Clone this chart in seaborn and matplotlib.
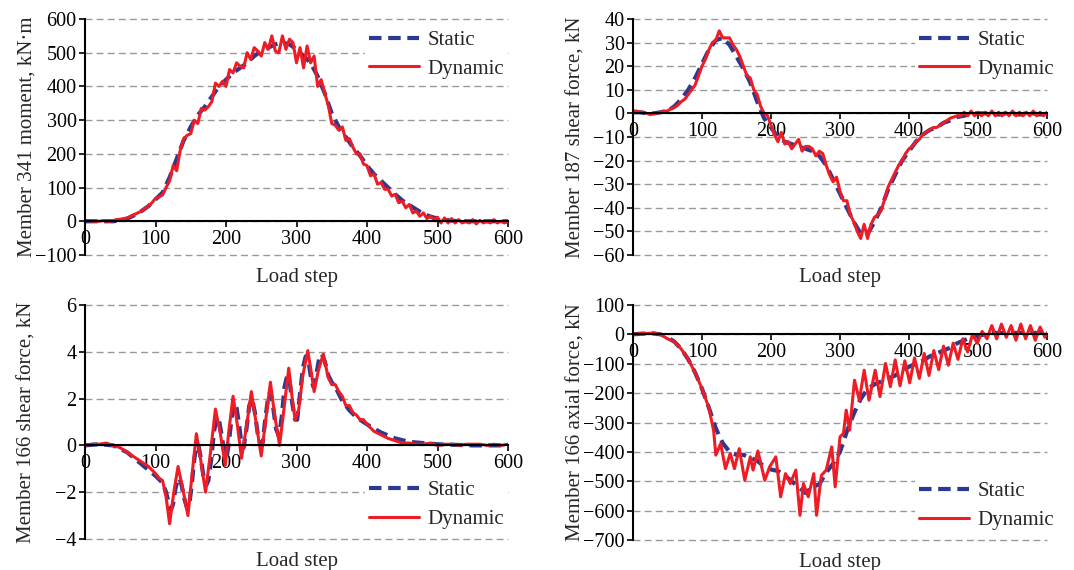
import numpy as np
import pandas as pd
import matplotlib
matplotlib.use("Agg")
import matplotlib.pyplot as plt
import seaborn as sns

# ---- Member 341 moment (kN.m)
m341_static_x = list(range(0, 601, 10))
m341_static_y = [0, 0, 0, 0, 0, 3, 8, 18, 30, 45, 65, 85, 130, 185, 240, 280, 315, 340, 370, 400,
                 420, 440, 455, 470, 490, 505, 515, 525, 530, 525, 510, 490, 470, 430, 380, 320, 280, 250,
                 220, 195, 165, 140, 120, 100, 80, 62, 48, 35, 22, 14, 8, 4, 2, 0, 0, 0, 0, 0, 0, 0, 0]
m341_dyn_x = list(range(0, 601, 5))
m341_dyn_y = [3, 2, 1, 0, 0, 2, 1, 0, 2, 5, 6, 8, 10, 15, 20, 25, 30, 38, 45, 55,
              68, 72, 78, 100, 120, 165, 150, 210, 245, 255, 260, 300, 290, 335, 330, 340, 355, 410, 400, 415,
              400, 450, 440, 470, 460, 455, 500, 480, 515, 505, 490, 530, 510, 550, 505, 500, 550, 510, 540, 530,
              470, 515, 455, 520, 470, 490, 400, 420, 380, 345, 290, 285, 270, 280, 240, 245, 220, 200, 200, 170,
              165, 135, 140, 110, 115, 95, 95, 75, 80, 55, 60, 40, 50, 25, 30, 15, 25, 8, 15, 5,
              12, -5, 10, -5, 8, -5, 5, -5, 0, -5, 5, -8, 3, -5, 0, -5, 5, -5, 0, -5, 0]

# ---- Member 187 shear force (kN)
m187_static_x = list(range(0, 601, 10))
m187_static_y = [0.5, 0.5, 0, 0, 0.5, 1, 3, 6, 10, 15, 21, 27, 31, 32, 29, 24, 19, 13, 5, -2,
                 -6, -10, -12, -13, -14, -15, -16, -18, -22, -28, -34, -40, -46, -51, -51, -46, -40, -32,
                 -26, -20, -16, -12, -9, -7, -6, -4, -3, -1.5, -1, 0, 0, 0, 0, -0.5, 0, 0, -0.5, 0, 0, -0.5, 0]
m187_dyn_x = list(range(0, 601, 5))
m187_dyn_y = [1, 1, 0.5, 0.5, 0, -0.5, 0, 0, 0.5, 1, 1, 2, 2.5, 3.5, 5, 6, 8, 10, 12, 16,
              20, 23, 27, 30, 31, 35, 32, 32, 32, 29, 27, 24, 20, 16, 15, 10, 8, 3, 0, -1,
              -5, -9, -12, -8, -13, -12, -15, -13, -11, -16, -14, -14, -15, -18, -16, -17, -22, -26, -29, -27,
              -33, -37, -37, -43, -46, -50, -53, -47, -53, -47, -44, -43, -41, -36, -31, -28, -25, -22, -20, -17,
              -15, -14, -12, -11, -9, -8, -7, -6, -6, -5, -4, -3, -2, -1.5, -1, -1, 0.5, -1, 1, -1,
              0.5, -1, 0.5, -1, 1, -1, 0.5, -1, 0.5, -1, 1, -1, 0.5, -1, 0.5, -1, 1, -1, 0.5, -1, 0.5]

# ---- Member 166 shear force (kN)
m166s_static_x = [0, 20, 40, 60, 80, 100, 110, 115, 119, 122, 125, 128, 131, 134, 137, 141, 145, 148, 151,
                  155, 158, 161, 164, 168, 172, 175, 179, 183, 187, 190, 194, 198, 201, 204, 208, 212, 215,
                  219, 222, 225, 229, 233, 237, 241, 245, 249, 252, 256, 260, 263, 267, 271, 275, 279, 283,
                  287, 290, 294, 298, 301, 305, 309, 313, 317, 321, 324, 328, 332, 336, 340, 345, 350, 355,
                  360, 365, 370, 375, 385, 395, 405, 420, 440, 460, 480, 500, 550, 600]
m166s_static_y = [0, 0.05, 0, -0.3, -0.8, -1.3, -1.6, -2.0, -2.5, -2.75, -2.5, -1.9, -1.5, -1.4, -1.7, -2.3,
                  -2.7, -2.5, -1.8, -0.6, 0.0, 0.0, -0.5, -1.3, -1.7, -1.5, -0.6, 0.6, 1.2, 1.1, 0.4, -0.4,
                  -0.5, 0.1, 1.2, 1.8, 1.6, 0.8, 0.0, -0.1, 0.7, 1.7, 2.0, 1.4, 0.5, 0.0, 0.1, 1.2, 2.1, 2.3,
                  1.6, 0.7, 0.4, 1.2, 2.5, 3.0, 2.8, 1.8, 1.1, 1.1, 2.2, 3.3, 3.8, 3.6, 2.8, 2.5, 3.0, 3.7,
                  3.9, 3.6, 3.0, 2.7, 2.5, 2.2, 1.9, 1.7, 1.5, 1.2, 1.0, 0.8, 0.55, 0.3, 0.15, 0.1, 0.05, 0, 0]
m166s_dyn_x = [0, 10, 20, 30, 40, 50, 60, 70, 80, 90, 100, 105, 110, 115, 120, 126, 132, 139, 146, 152, 158,
               164, 171, 178, 185, 192, 199, 204, 210, 216, 222, 229, 236, 243, 250, 256, 263, 269, 276, 282,
               289, 294, 298, 303, 309, 316, 320, 325, 331, 338, 345, 350, 355, 360, 365, 370, 375, 380, 385,
               390, 395, 400, 410, 420, 430, 440, 450, 460, 470, 480, 490, 500, 510, 520, 530, 540, 550, 560,
               570, 580, 590, 600]
m166s_dyn_y = [0, 0.05, 0.05, 0.1, 0.0, -0.1, -0.3, -0.5, -0.7, -0.9, -1.2, -1.4, -1.5, -2.2, -3.35, -2.0,
               -0.9, -1.9, -3.0, -1.2, 0.5, -0.6, -2.0, -0.3, 1.55, 0.5, -0.85, 0.6, 2.1, 0.9, -0.55, 0.8, 2.3,
               0.9, -0.45, 1.0, 2.7, 1.3, 0.0, 1.5, 3.3, 2.0, 1.1, 1.5, 3.0, 4.05, 3.3, 2.3, 3.2, 3.9, 2.9,
               2.6, 2.6, 2.3, 2.1, 1.7, 1.7, 1.4, 1.3, 1.1, 1.1, 0.9, 0.6, 0.45, 0.3, 0.2, 0.1, 0.1, 0.05,
               0.05, 0.1, 0, 0.05, 0.05, 0, 0.05, 0.05, 0.05, 0, 0.05, 0, 0.05]

# ---- Member 166 axial force (kN)
m166a_static_x = list(range(0, 601, 10))
m166a_static_y = [0, 2, 3, 3, 0, -10, -25, -50, -85, -130, -185, -250, -320, -370, -400, -410, -410, -420,
                  -430, -450, -460, -465, -480, -500, -520, -540, -520, -510, -470, -440, -400, -330, -270,
                  -220, -185, -170, -160, -150, -140, -125, -110, -100, -90, -75, -65, -55, -45, -30, -20,
                  -10, -5, 0, 5, 5, 5, 5, 5, 5, 5, 5, 5]
m166a_dyn_x = [0, 10, 20, 30, 40, 50, 60, 70, 80, 90, 100, 110, 117, 120, 127, 134, 141, 147, 154, 162, 170,
               174, 181, 191, 198, 207, 214, 221, 228, 236, 242, 247, 254, 262, 266, 273, 280, 288, 293, 300,
               305, 309, 314, 321, 328, 335, 342, 351, 358, 366, 373, 380, 387, 394, 401, 408, 415, 422, 429,
               436, 443, 450, 457, 464, 471, 478, 485, 492, 499, 506, 513, 520, 527, 534, 541, 548, 555, 562,
               569, 576, 583, 590, 597, 600]
m166a_dyn_y = [0, 3, 3, 5, 0, -15, -25, -50, -85, -130, -185, -250, -330, -411, -372, -457, -405, -457, -389,
               -497, -417, -462, -397, -497, -451, -417, -553, -474, -508, -462, -616, -508, -553, -474, -616,
               -480, -462, -383, -519, -349, -337, -258, -326, -156, -224, -122, -224, -122, -212, -99, -178,
               -87, -175, -90, -165, -80, -150, -65, -140, -55, -120, -40, -105, -30, -85, -15, -60, 0, -30,
               10, -15, 30, -15, 35, -10, 30, -20, 35, -15, 30, -20, 25, -10, 5]

panels = [
    ("Member 341 moment, kN·m", m341_static_x, m341_static_y, m341_dyn_x, m341_dyn_y,
     (-100, 600), 100, "upper right"),
    ("Member 187 shear force, kN", m187_static_x, m187_static_y, m187_dyn_x, m187_dyn_y,
     (-60, 40), 10, "upper right"),
    ("Member 166 shear force, kN", m166s_static_x, m166s_static_y, m166s_dyn_x, m166s_dyn_y,
     (-4, 6), 2, "lower right"),
    ("Member 166 axial force, kN", m166a_static_x, m166a_static_y, m166a_dyn_x, m166a_dyn_y,
     (-700, 100), 100, "lower right"),
]

sns.set_style("white")
plt.rcParams['font.family'] = ['Liberation Serif', 'DejaVu Serif']

fig = plt.figure(figsize=(10.74, 5.70), dpi=100)
W, H = 1074, 570
# axes boxes in pixels: left, right, top, bottom
boxes = [(85, 508, 19, 255), (633, 1047, 19, 255), (85, 508, 305, 539), (633, 1047, 305, 540)]
# legend anchors (right panels let the legend run a little past the axis)
anchors = [(1.0, 0.97), (1.028, 0.97), (1.0, 0.025), (1.028, 0.025)]

blue = "#2B3990"
red = "#EE1C25"

for (ylabel, sx, sy, dx, dy, ylim, step, loc), (l, r, t, b), anc in zip(panels, boxes, anchors):
    ax = fig.add_axes([l / W, (H - b) / H, (r - l) / W, (b - t) / H])
    static = pd.DataFrame({"step": sx, "value": sy})
    dynamic = pd.DataFrame({"step": dx, "value": dy})
    sns.lineplot(data=static, x="step", y="value", ax=ax, color=blue, lw=3,
                 linestyle=(0, (3, 1.6)), label="Static")
    sns.lineplot(data=dynamic, x="step", y="value", ax=ax, color=red, lw=2.2,
                 label="Dynamic")
    ax.set_xlim(0, 600)
    ax.set_ylim(*ylim)
    ax.set_xticks(range(0, 601, 100))
    ax.set_yticks(np.arange(ylim[0], ylim[1] + step / 2, step))
    ax.yaxis.grid(True, color="#999999", linestyle=(0, (5, 3)), lw=1)
    for gl in ax.yaxis.get_gridlines():
        gl.set_clip_on(False)
    ax.spines["right"].set_visible(False)
    ax.spines["top"].set_visible(False)
    ax.spines["bottom"].set_position(("data", 0))
    ax.spines["bottom"].set_linewidth(1.5)
    ax.spines["left"].set_linewidth(1.5)
    ax.spines["bottom"].set_color("black")
    ax.spines["left"].set_color("black")
    ax.tick_params(axis="both", labelsize=14.5, direction="out", length=4, width=1.2, pad=2,
                   left=True, bottom=True, colors="black")
    ax.set_xlabel("Load step", fontsize=15)
    ax.xaxis.set_label_coords(0.5, -0.055)
    ax.set_ylabel(ylabel, fontsize=15)
    ax.yaxis.set_label_coords(-0.115, 0.5)
    ax.legend(loc=loc, bbox_to_anchor=anc, fontsize=15, frameon=True, framealpha=1, edgecolor="none",
              facecolor="white", handlelength=2.4, handletextpad=0.4, borderpad=0.2,
              labelspacing=0.45, borderaxespad=0.0, fancybox=False)

fig.savefig("out.png", dpi=100, facecolor="white")
